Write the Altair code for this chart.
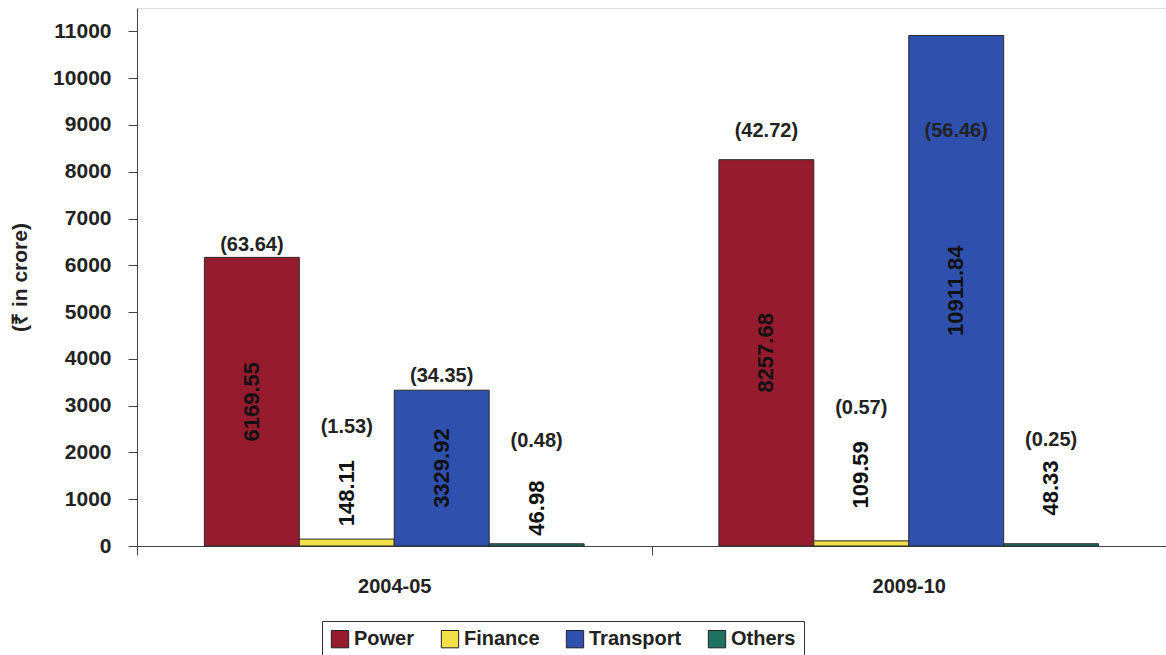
import altair as alt
import pandas as pd

years = ["2004-05", "2004-05", "2004-05", "2004-05", "2009-10", "2009-10", "2009-10", "2009-10"]
sectors = ["Power", "Finance", "Transport", "Others", "Power", "Finance", "Transport", "Others"]
values = [6169.55, 148.11, 3329.92, 46.98, 8257.68, 109.59, 10911.84, 48.33]
shares = ["(63.64)", "(1.53)", "(34.35)", "(0.48)", "(42.72)", "(0.57)", "(56.46)", "(0.25)"]
# label anchors in data units
value_label_at = [3085, 1130, 1665, 810, 4129, 1520, 5456, 1240]
share_label_at = [6441, 2547, 3638, 2247, 8881, 2953, 8881, 2268]

sector_order = ["Power", "Finance", "Transport", "Others"]
sector_colors = ["#961b2e", "#f2e04a", "#2f50ad", "#1d7262"]
y_ticks = list(range(0, 12000, 1000))

df = pd.DataFrame({
    "year": years, "sector": sectors, "value": values, "share": shares,
    "vpos": value_label_at, "spos": share_label_at,
    "vtext": [f"{v:.2f}" for v in values],
})

FONT = "Liberation Sans"

x = alt.X("year:N", title=None,
          scale=alt.Scale(paddingInner=0, paddingOuter=0),
          axis=alt.Axis(labelAngle=0, tickBand="extent", tickSize=9, labelPadding=21,
                        labelFontSize=20, labelFontWeight="bold", labelFont=FONT,
                        labelColor="#222", domainColor="#444", tickColor="#444",
                        labelBaseline="top"))
xo = alt.XOffset("sector:N", sort=sector_order,
                 scale=alt.Scale(paddingInner=0, paddingOuter=0.71))

bars = alt.Chart(df).mark_bar(stroke="#2a2a2a", strokeWidth=1).encode(
    x=x, xOffset=xo,
    y=alt.Y("value:Q", title="(₹ in crore)",
            scale=alt.Scale(domain=[0, 11500], nice=False),
            axis=alt.Axis(values=y_ticks, format="d", grid=False, tickSize=9, labelPadding=17,
                          labelFontSize=21, labelFontWeight="bold", labelFont=FONT,
                          labelColor="#222", domainColor="#444", tickColor="#444",
                          titleFontSize=21, titleFontWeight="bold", titleFont=FONT,
                          titleColor="#222", titlePadding=22)),
    color=alt.Color("sector:N", sort=sector_order,
                    scale=alt.Scale(domain=sector_order, range=sector_colors),
                    legend=alt.Legend(title=None, orient="none", legendX=185, legendY=613,
                                      direction="horizontal", symbolType="square",
                                      symbolSize=300, symbolStrokeColor="#222",
                                      symbolStrokeWidth=1, labelFontSize=20,
                                      labelFontWeight="bold", labelFont=FONT,
                                      labelColor="#222", strokeColor="#333",
                                      padding=8, columnPadding=24, labelOffset=4)),
)

vlabels = alt.Chart(df).mark_text(angle=270, fontSize=22, fontWeight="bold", font=FONT,
                                  color="#111", align="center", baseline="middle").encode(
    x=x, xOffset=xo, y=alt.Y("vpos:Q"), text="vtext:N")

slabels = alt.Chart(df).mark_text(fontSize=20, fontWeight="bold", font=FONT,
                                  color="#222", align="center", baseline="middle").encode(
    x=x, xOffset=xo, y=alt.Y("spos:Q"), text="share:N")

chart = alt.layer(bars, vlabels, slabels).properties(
    width=1029, height=538,
    padding={"left": 137, "top": 8, "right": 0, "bottom": 109},
    autosize=alt.AutoSizeParams(type="none"),
).configure_view(stroke=None).configure(background="white")

chart.save("out.html", embed_options={"renderer": "svg", "actions": False})
